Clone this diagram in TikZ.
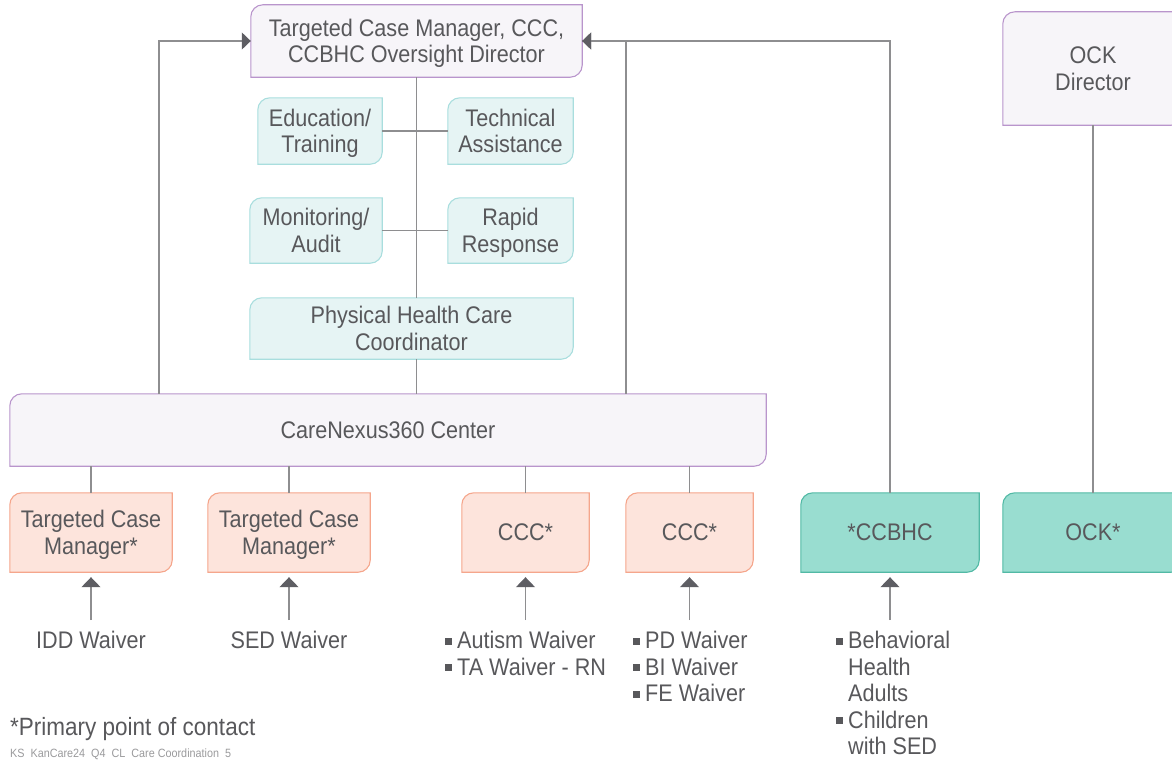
\documentclass[tikz,border=0pt]{standalone}
\usepackage{fontspec}
\setmainfont{Liberation Sans}[FakeStretch=0.9]
\usetikzlibrary{arrows.meta,backgrounds}

\definecolor{inkgray}{HTML}{58585B}
\definecolor{notegray}{HTML}{9A9A9C}
\definecolor{linkgray}{HTML}{8E8E90}
\definecolor{tipgray}{HTML}{5E5E63}
\definecolor{leadfill}{HTML}{F7F5F9}
\definecolor{leadline}{HTML}{B995CC}
\definecolor{supportfill}{HTML}{E6F4F4}
\definecolor{supportline}{HTML}{A9DEDE}
\definecolor{agencyfill}{HTML}{FDE4DC}
\definecolor{agencyline}{HTML}{F5A68C}
\definecolor{ccbhcfill}{HTML}{99DDD0}
\definecolor{ccbhcline}{HTML}{52B9A5}

% box with rounded top-left and bottom-right corners, drawn round a node
\newcommand{\leafbox}[2]{%
  \path[#2] ([yshift=-12pt]#1.north west) arc[start angle=180,end angle=90,radius=12pt]
    -- (#1.north east) -- ([yshift=12pt]#1.south east) arc[start angle=0,end angle=-90,radius=12pt]
    -- (#1.south west) -- cycle;}
\newcommand{\sqbullet}{\textcolor{inkgray}{\rule[4pt]{7pt}{7pt}}\hspace{5pt}}
\newcommand{\sqindent}{\hspace*{12pt}}

\begin{document}
\begin{tikzpicture}[x=1pt,y=-1pt,
every node/.style={text=inkgray, font=\fontsize{24}{26.5}\selectfont},
boxnode/.style={align=center, inner sep=0pt, text depth=-2pt},
sourcenode/.style={anchor=north, align=left, inner xsep=0pt, inner ysep=11pt},
leadframe/.style={draw=leadline, fill=leadfill, line width=1.1pt},
supportframe/.style={draw=supportline, fill=supportfill, line width=1.1pt},
agencyframe/.style={draw=agencyline, fill=agencyfill, line width=1.1pt},
ccbhcframe/.style={draw=ccbhcline, fill=ccbhcfill, line width=1.1pt},
link/.style={draw=linkgray, line width=1.1pt},
feed/.style={link, -{Triangle[width=17pt,length=9pt,color=tipgray]}},
rise/.style={link, -{Triangle[width=19pt,length=10pt,color=tipgray]}, shorten >=5pt},
]
\useasboundingbox (0,0) rectangle (1172,760);

% oversight and support boxes
\node[boxnode, minimum width=331pt, minimum height=72pt] (top) at (416.5,41) {Targeted Case Manager, CCC,\\CCBHC Oversight Director};
\node[boxnode, minimum width=180pt, minimum height=113pt] (ockdir) at (1093,68.5) {OCK\\Director};
\node[boxnode, minimum width=124pt, minimum height=66pt] (edu) at (320,131) {Education/\\Training};
\node[boxnode, minimum width=125pt, minimum height=66pt] (tech) at (510.5,131) {Technical\\Assistance};
\node[boxnode, minimum width=132pt, minimum height=65pt] (audit) at (316,230.5) {Monitoring/\\Audit};
\node[boxnode, minimum width=125pt, minimum height=65pt] (rapid) at (510.5,230.5) {Rapid\\Response};
\node[boxnode, minimum width=323pt, minimum height=61pt] (phcc) at (411.5,328.5) {Physical Health Care\\Coordinator};
\node[boxnode, minimum width=756pt, minimum height=72pt] (nexus) at (388,430) {CareNexus360 Center};

% points of contact
\node[boxnode, minimum width=162pt, minimum height=79pt] (tcma) at (91,532.5) {Targeted Case\\Manager*};
\node[boxnode, minimum width=162pt, minimum height=79pt] (tcmb) at (289,532.5) {Targeted Case\\Manager*};
\node[boxnode, minimum width=127pt, minimum height=79pt] (ccca) at (525.5,532.5) {CCC*};
\node[boxnode, minimum width=127pt, minimum height=79pt] (cccb) at (689.5,532.5) {CCC*};
\node[boxnode, minimum width=178pt, minimum height=79pt] (ccbhc) at (890,532.5) {*CCBHC};
\node[boxnode, minimum width=180pt, minimum height=79pt] (ock) at (1093,532.5) {OCK*};

% waiver groups
\node[sourcenode] (idd) at (91,620) {IDD Waiver};
\node[sourcenode] (sed) at (289,620) {SED Waiver};
\node[sourcenode, anchor=north west] (autism) at (445,620) {\sqbullet Autism Waiver\\\sqbullet TA Waiver - RN};
\node[sourcenode, anchor=north west] (pdlist) at (633,620) {\sqbullet PD Waiver\\\sqbullet BI Waiver\\\sqbullet FE Waiver};
\node[sourcenode, anchor=north west] (bhlist) at (836,620) {\sqbullet Behavioral\\\sqindent Health\\\sqindent Adults\\\sqbullet Children\\\sqindent with SED};

\node[anchor=base west, inner sep=0pt, font=\fontsize{25}{28}\selectfont] (note) at (10,735) {*Primary point of contact};
\node[anchor=base west, inner sep=0pt, text=notegray, font=\fontsize{12}{14}\selectfont] (tag) at (10,757) {KS\enspace KanCare24\enspace Q4\enspace CL\enspace Care Coordination\enspace 5};

\begin{scope}[on background layer]
  \leafbox{top}{leadframe}
  \leafbox{ockdir}{leadframe}
  \leafbox{nexus}{leadframe}
  \foreach \n in {edu,tech,audit,rapid,phcc} {\leafbox{\n}{supportframe}}
  \foreach \n in {tcma,tcmb,ccca,cccb} {\leafbox{\n}{agencyframe}}
  \foreach \n in {ccbhc,ock} {\leafbox{\n}{ccbhcframe}}
\end{scope}

% spine and side links
\draw[link] (top.south) -- (top.south |- phcc.north);
\draw[link] (top.south |- phcc.south) -- (top.south |- nexus.north);
\draw[link] (edu.east) -- (tech.west);
\draw[link] (audit.east) -- (rapid.west);
\draw[link] (ockdir) -- (ock);
\foreach \n in {tcma,tcmb,ccca,cccb} {\draw[link] (nexus.south -| \n.north) -- (\n.north);}

% reporting lines
\coordinate (upl) at (159,0);
\coordinate (upr) at (626,0);
\draw[feed] (upl |- nexus.north) |- (top.west);
\draw[feed] (upr |- nexus.north) |- (top.east);
\draw[feed] (ccbhc.north) |- (top.east);

% waivers feeding the contacts
\draw[rise] (idd.north) -- (tcma.south);
\draw[rise] (sed.north) -- (tcmb.south);
\draw[rise] (ccca.south |- autism.north) -- (ccca.south);
\draw[rise] (cccb.south |- pdlist.north) -- (cccb.south);
\draw[rise] (ccbhc.south |- bhlist.north) -- (ccbhc.south);
\end{tikzpicture}
\end{document}
